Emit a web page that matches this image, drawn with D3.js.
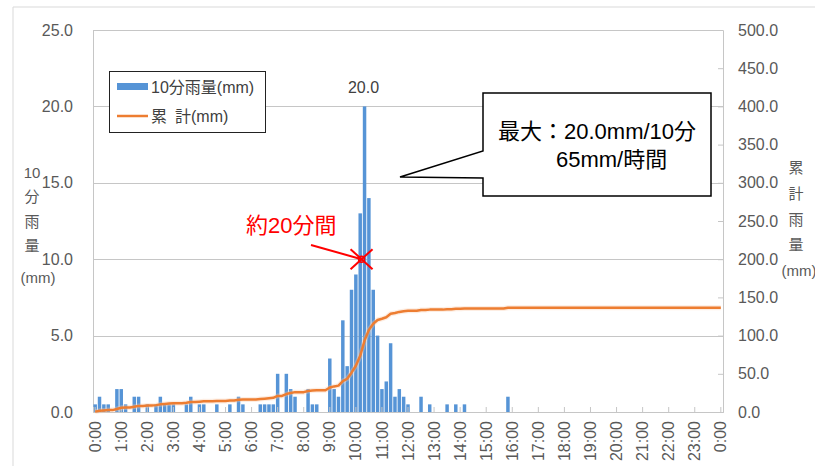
<!DOCTYPE html>
<html><head><meta charset="utf-8">
<script src="https://cdn.jsdelivr.net/npm/d3@7/dist/d3.min.js"></script>
<style>
html,body{margin:0;padding:0;background:#fff;}
svg{display:block;}
text{font-family:"Liberation Sans","Noto Sans CJK JP",sans-serif;}
</style></head>
<body>
<svg id="chart" width="815" height="466"></svg>
<script>
// ---- data ----
const categories = [
"0:00","0:10","0:20","0:30","0:40","0:50","1:00","1:10","1:20","1:30","1:40","1:50",
"2:00","2:10","2:20","2:30","2:40","2:50","3:00","3:10","3:20","3:30","3:40","3:50",
"4:00","4:10","4:20","4:30","4:40","4:50","5:00","5:10","5:20","5:30","5:40","5:50",
"6:00","6:10","6:20","6:30","6:40","6:50","7:00","7:10","7:20","7:30","7:40","7:50",
"8:00","8:10","8:20","8:30","8:40","8:50","9:00","9:10","9:20","9:30","9:40","9:50",
"10:00","10:10","10:20","10:30","10:40","10:50","11:00","11:10","11:20","11:30","11:40","11:50",
"12:00","12:10","12:20","12:30","12:40","12:50","13:00","13:10","13:20","13:30","13:40","13:50",
"14:00","14:10","14:20","14:30","14:40","14:50","15:00","15:10","15:20","15:30","15:40","15:50",
"16:00","16:10","16:20","16:30","16:40","16:50","17:00","17:10","17:20","17:30","17:40","17:50",
"18:00","18:10","18:20","18:30","18:40","18:50","19:00","19:10","19:20","19:30","19:40","19:50",
"20:00","20:10","20:20","20:30","20:40","20:50","21:00","21:10","21:20","21:30","21:40","21:50",
"22:00","22:10","22:20","22:30","22:40","22:50","23:00","23:10","23:20","23:30","23:40","23:50",
"0:00"];
const rain10 = [
0.5,1.0,0.5,0.5,0,1.5, 1.5,0.5,0,1.0,1.0,0,
0.5,0,0.5,1.0,0.5,0.5, 0.5,0,0,0.5,1.0,0,
0.5,0.5,0,0,0.5,0, 0,0.5,0,1.0,0.5,0,
0,0,0.5,0.5,0.5,0.5, 2.5,0,2.5,1.5,1.0,0,
0,1.5,0.5,0.5,0,0, 3.5,1.5,1.0,6.0,3.0,8.0,
9.0,13.0,20.0,14.0,8.0,5.0, 1.5,2.0,4.5,1.0,1.5,1.0,
0.5,0,0,1.0,0,0.5, 0,0,0,0.5,0,0.5,
0,0.5,0,0,0,0, 0,0,0,0,0,1.0,
0,0,0,0,0,0, 0,0,0,0,0,0,
0,0,0,0,0,0, 0,0,0,0,0,0,
0,0,0,0,0,0, 0,0,0,0,0,0,
0,0,0,0,0,0, 0,0,0,0,0,0,
0];
const cumulative = [
0.5,1.5,2.0,2.5,2.5,4.0, 5.5,6.0,6.0,7.0,8.0,8.0,
8.5,8.5,9.0,10.0,10.5,11.0, 11.5,11.5,11.5,12.0,13.0,13.0,
13.5,14.0,14.0,14.0,14.5,14.5, 14.5,15.0,15.0,16.0,16.5,16.5,
16.5,16.5,17.0,17.5,18.0,18.5, 21.0,21.0,23.5,25.0,26.0,26.0,
26.0,27.5,28.0,28.5,28.5,28.5, 32.0,33.5,34.5,40.5,43.5,51.5,
60.5,73.5,93.5,107.5,115.5,120.5, 122.0,124.0,128.5,129.5,131.0,132.0,
132.5,132.5,132.5,133.5,133.5,134.0, 134.0,134.0,134.0,134.5,134.5,135.0,
135.0,135.5,135.5,135.5,135.5,135.5, 135.5,135.5,135.5,135.5,135.5,136.5,
136.5,136.5,136.5,136.5,136.5,136.5, 136.5,136.5,136.5,136.5,136.5,136.5,
136.5,136.5,136.5,136.5,136.5,136.5, 136.5,136.5,136.5,136.5,136.5,136.5,
136.5,136.5,136.5,136.5,136.5,136.5, 136.5,136.5,136.5,136.5,136.5,136.5,
136.5,136.5,136.5,136.5,136.5,136.5, 136.5,136.5,136.5,136.5,136.5,136.5,
136.5];
const leftTicks = [0,5,10,15,20,25];
const rightTicks = [0,50,100,150,200,250,300,350,400,450,500];
const xTickLabels = ["0:00","1:00","2:00","3:00","4:00","5:00","6:00","7:00","8:00","9:00","10:00","11:00",
"12:00","13:00","14:00","15:00","16:00","17:00","18:00","19:00","20:00","21:00","22:00","23:00","0:00"];
const seriesNames = ["10分雨量(mm)","累\u2002計(mm)"];
const leftTitle = ["10","分","雨","量","(mm)"];
const rightTitle = ["累","計","雨","量","(mm)"];
const peakLabel = "20.0";
const calloutLines = ["最大：20.0mm/10分","65mm/時間"];
const noteText = "約20分間";

// ---- layout ----
const L = 93, R = 723, T = 30, B = 412;
const svg = d3.select("#chart");
const gridCol = "#c6c6c6", tickCol = "#595959";
const blue = "#5694d6", orange = "#ed7d31";

// outer frame
svg.append("path").attr("d", `M13,466 V7 H815`).attr("fill","none").attr("stroke","#d9d9d9").attr("stroke-width",1);

const idx = d3.range(categories.length);
const x = d3.scaleBand().domain(idx).range([L, R]).paddingInner(0.2).paddingOuter(0.1);
const xc = i => x(i) + x.bandwidth()/2;
const yL = d3.scaleLinear().domain([0,25]).range([B, T]);
const yR = d3.scaleLinear().domain([0,500]).range([B, T]);

// gridlines
svg.append("g").selectAll("line").data(leftTicks.filter(d=>d>0)).join("line")
  .attr("x1", L).attr("x2", R).attr("y1", d=>Math.round(yL(d))+0.5).attr("y2", d=>Math.round(yL(d))+0.5)
  .attr("stroke", gridCol).attr("stroke-width",1);

// left axis
const axL = svg.append("g").attr("transform",`translate(${L},0)`)
  .call(d3.axisLeft(yL).tickValues(leftTicks).tickFormat(d3.format(".1f")).tickSize(0).tickPadding(20));
axL.select(".domain").attr("stroke", gridCol);
axL.selectAll("text").attr("font-size",16).attr("fill",tickCol).attr("font-family",'"Liberation Sans",sans-serif');

// right axis
const axR = svg.append("g").attr("transform",`translate(${R},0)`)
  .call(d3.axisRight(yR).tickValues(rightTicks).tickFormat(d3.format(".1f")).tickSize(-5).tickPadding(15));
axR.select(".domain").attr("stroke", gridCol);
axR.selectAll(".tick line").attr("stroke", gridCol);
axR.selectAll("text").attr("font-size",16).attr("fill",tickCol).attr("font-family",'"Liberation Sans",sans-serif');

// bars
svg.append("g").selectAll("rect").data(idx.filter(i=>rain10[i]>0)).join("rect")
  .attr("x", i=>x(i)).attr("width", x.bandwidth())
  .attr("y", i=>yL(rain10[i])).attr("height", i=>B - yL(rain10[i]))
  .attr("fill", blue);

// x axis
const tickIdx = idx.filter(i=>i%6===0);
const axX = svg.append("g").attr("transform",`translate(0,${B})`)
  .call(d3.axisBottom(x).tickValues(tickIdx).tickFormat(i=>xTickLabels[i/6]).tickSize(-5).tickPadding(0));
axX.select(".domain").attr("stroke", gridCol);
axX.selectAll(".tick line").attr("stroke", gridCol);
axX.selectAll("text").attr("font-size",16).attr("fill",tickCol).attr("font-family",'"Liberation Sans",sans-serif')
  .attr("text-anchor","end").attr("dy","0.35em").attr("transform","translate(0,9) rotate(-90)").attr("x",0).attr("y",0);

// cumulative line (with soft halo)
const line = d3.line().x(i=>xc(i)).y(i=>yR(cumulative[i]));
svg.append("path").datum(idx).attr("d", line).attr("fill","none").attr("stroke","#f8cbad").attr("stroke-width",5).attr("opacity",0.35).attr("stroke-linejoin","round");
svg.append("path").datum(idx).attr("d", line).attr("fill","none").attr("stroke",orange).attr("stroke-width",2.5).attr("stroke-linejoin","round");

// peak label
const peakI = rain10.indexOf(d3.max(rain10));
svg.append("text").attr("x", xc(peakI)-1).attr("y", yL(rain10[peakI])-13).attr("text-anchor","middle")
  .attr("font-size",16).attr("fill","#404040").text(peakLabel);

// legend
const lg = svg.append("g");
lg.append("rect").attr("x",109.5).attr("y",71.5).attr("width",156).attr("height",61).attr("fill","#fff").attr("stroke","#222").attr("stroke-width",1);
lg.append("rect").attr("x",117).attr("y",83).attr("width",31).attr("height",7).attr("fill",blue);
lg.append("line").attr("x1",117).attr("x2",148).attr("y1",116).attr("y2",116).attr("stroke",orange).attr("stroke-width",2.5);
lg.append("text").attr("x",151).attr("y",93).attr("font-size",16).attr("fill","#404040").text(seriesNames[0]);
lg.append("text").attr("x",151).attr("y",122).attr("font-size",16).attr("fill","#404040").text(seriesNames[1]);

// axis titles
const lt = [[32,178],[32,202],[32,227],[32,251],[38,283]];
leftTitle.forEach((t,k)=>svg.append("text").attr("x",lt[k][0]).attr("y",lt[k][1]).attr("text-anchor","middle")
  .attr("font-size",15).attr("fill",tickCol).text(t));
const rt = [[796,173],[796,199],[796,225],[796,250],[799,276]];
rightTitle.forEach((t,k)=>svg.append("text").attr("x",rt[k][0]).attr("y",rt[k][1]).attr("text-anchor","middle")
  .attr("font-size",15).attr("fill",tickCol).text(t));

// callout
svg.append("path").attr("d","M483,93 H711 V196 H483 V178 L400,177 L483,151 Z")
  .attr("fill","#fff").attr("stroke","#000").attr("stroke-width",1.5);
svg.append("text").attr("x",498).attr("y",139).attr("font-size",22).attr("fill","#000").text(calloutLines[0]);
svg.append("text").attr("x",556).attr("y",167).attr("font-size",22).attr("fill","#000").text(calloutLines[1]);

// red annotation
const mx = xc(peakI) - 3, my = yL(10);
const red = "#ff0000";
svg.append("text").attr("x",246).attr("y",233).attr("font-size",22).attr("fill",red).text(noteText);
svg.append("line").attr("x1",311).attr("y1",245).attr("x2",mx).attr("y2",my).attr("stroke",red).attr("stroke-width",2);
svg.append("line").attr("x1",mx-11).attr("y1",my-10).attr("x2",mx+11).attr("y2",my+10).attr("stroke",red).attr("stroke-width",2);
svg.append("line").attr("x1",mx-11).attr("y1",my+10).attr("x2",mx+11).attr("y2",my-10).attr("stroke",red).attr("stroke-width",2);
svg.append("circle").attr("cx",mx).attr("cy",my).attr("r",3).attr("fill","none").attr("stroke",red).attr("stroke-width",1.5);
</script>
</body></html>
